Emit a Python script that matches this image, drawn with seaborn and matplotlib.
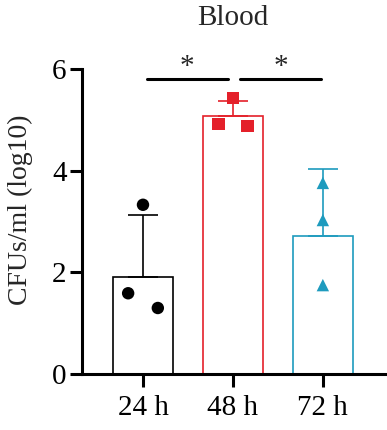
import numpy as np
import pandas as pd
import matplotlib
matplotlib.use("Agg")
import matplotlib.pyplot as plt
import seaborn as sns

groups = ["24 h", "48 h", "72 h"]
means = [1.91, 5.08, 2.72]
sds = [1.22, 0.29, 1.32]
pts_24 = [3.33, 1.59, 1.30]
pts_48 = [5.43, 4.92, 4.88]
pts_72 = [3.76, 3.03, 1.75]
colors = ["#000000", "#E4202A", "#1E9BBE"]
markers = ["o", "s", "^"]

sns.set_theme(style="ticks")
plt.rcParams["font.family"] = ["Liberation Serif", "DejaVu Serif"]

fig = plt.figure(figsize=(3.87, 4.30), dpi=100)
ax = fig.add_axes([0.2119, 0.130, 0.785, 0.7095])

df = pd.DataFrame({"group": groups, "mean": means})
sns.barplot(data=df, x="group", y="mean", hue="group", palette=colors,
            fill=False, width=0.66, linewidth=1.2, errorbar=None,
            legend=False, ax=ax)

for i, (m, s, c) in enumerate(zip(means, sds, colors)):
    ax.errorbar(i, m, yerr=[[0], [s]], color=c, elinewidth=1.2,
                capsize=11, capthick=1.2, zorder=3)

offsets = {"24 h": [0, -0.165, 0.165], "48 h": [0, -0.16, 0.16], "72 h": [0, 0, 0]}
for i, (g, pts) in enumerate(zip(groups, [pts_24, pts_48, pts_72])):
    xs = [i + o for o in offsets[g]]
    ax.scatter(xs, pts, s=80, marker=markers[i], color=colors[i],
               edgecolor="none", zorder=4)

# significance
ax.plot([0.04, 0.94], [5.8, 5.8], color="black", lw=2.2, clip_on=False)
ax.plot([1.08, 1.98], [5.8, 5.8], color="black", lw=2.2, clip_on=False)
ax.text(0.49, 5.78, "*", ha="center", va="bottom", fontsize=21)
ax.text(1.53, 5.78, "*", ha="center", va="bottom", fontsize=21)

ax.set_ylim(0, 6)
ax.set_xlim(-0.678, 2.7)
ax.set_yticks([0, 2, 4, 6])
ax.set_xlabel("")
ax.set_ylabel("CFUs/ml (log10)", fontsize=20)
ax.yaxis.set_label_coords(-0.16, 0.54)
ax.tick_params(axis="both", labelsize=21, width=2.2, length=9, color="black",
               labelcolor="black", pad=2)
ax.tick_params(axis="x", pad=6)
for sp in ["top", "right"]:
    ax.spines[sp].set_visible(False)
for sp in ["left", "bottom"]:
    ax.spines[sp].set_linewidth(2.2)
    ax.spines[sp].set_color("black")

fig.text(0.602, 0.957, "Blood", ha="center", va="center", fontsize=21)

fig.savefig("out.png", dpi=100)
